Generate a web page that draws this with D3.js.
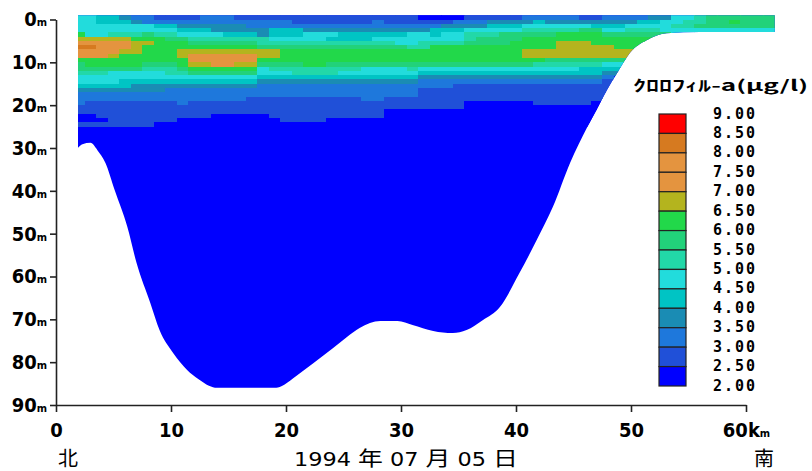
<!DOCTYPE html>
<html><head><meta charset="utf-8">
<script src="https://cdn.jsdelivr.net/npm/d3@7/dist/d3.min.js"></script>
<style>body{margin:0;background:#fff}svg{display:block}</style>
</head><body><svg id="c" width="812" height="471"></svg>
<script>
// ---- data ----
const depthTicks = [0,10,20,30,40,50,60,70,80,90];
const distTicks = [0,10,20,30,40,50,60];
const levelLabels = ["9.00","8.50","8.00","7.50","7.00","6.50","6.00","5.50","5.00","4.50","4.00","3.50","3.00","2.50","2.00"];
const levelValues = [9,8.5,8,7.5,7,6.5,6,5.5,5,4.5,4,3.5,3,2.5,2];
const levelColors = ["#0000ff","#2050d8","#1e78dc","#1a8cb4","#00c4c4","#22dcdc","#22d8a8","#22d27a","#22d84a","#b4b41e","#e4943f","#e4943f","#d67a20","#ff0000"];
// station columns (km) and class codes per 1 m depth row from -1 m downward (0=2.0-2.5 ... d=8.5-9.0)
const columnKm = [2,3,4,5,6,7,8,9,10,11,12,13,14,15,16,17,18,19,20,21,22,23,24,25,26,27,28,29,30,31,32,33,34,35,36,37,38,39,40,41,42,43,44,45,46,47,48,49,50,51,52,53,54,55,56,57,58,59,60,61,62];
const columnCodes = [
"555589acaa8776554322211001","555559acaa8876554322111001","445559aaaa8876554322111101","445569aaa98875554322111111",
"345569aa988875544322111111","23556899988875543322111111","22557898888765543322111111","12456888888765543322111110",
"12456788888766543222111110","12345788998876543222211100","123456789aa987543222111100","223456789aa987543222111100",
"223356789aaa87543222111000","223346789aaa87543222111000","123346789aa987543222111000","122346789aa987543221111000",
"12233667998755432221111000","12244567998765432221111100","12244567888765432221111110","11244567888766432221111110",
"11235567888866432221111110","11235567888866432221111110","11235467888766432221111100","11234467888765432221111100",
"11234467888765432221111100","11234467888755432222111100","12234567888755432222111100","11234567888755432221110000",
"11234557888755432221110000","11235556888765432221110000","01235566888754322111110000","01244568888754322111110000",
"01345568888754322111110000","02345568888754321111110000","12356678888754321111000000","12356778888754321111000000",
"13456778888754321111000000","13457778888754321111000000","13457788888754321111000000","23567888998754321111000000",
"24567888998654321111100000","23567888997654321111100000","23568899997654321111100000","23568899997654321111100000",
"13578899997644321111100000","13478889997644321111000000","23457889997543211111","23457888997543",
"23567888997","2456788899","34567888","355578","5565","5665","6675","7775","7775","7875","7775","7775","7775"];
const bottomKm =    [1.9,2.3,3.0,3.6,4.3,5.1,6.2,7.0,8.2,9.0,10.2,11.4,12.4,13.3,14.0,19.0,19.6,20.1,20.6,22.4,24.1,25.3,26.4,28.2,29.7,31.0,32.8,34.5,35.7,37.1,38.6,40.3,41.8,43.2,44.7,46.2,47.0,47.9,48.8,49.9,51.4,53.1,56.0,62.5];
const bottomDepth = [30.0,29.1,28.8,30.5,33.5,39.8,48.4,56.8,66.2,72.5,77.9,81.8,84.0,85.5,86.0,86.0,85.6,84.8,83.8,80.2,76.7,74.1,72.0,70.4,70.4,71.3,72.7,73.2,72.5,70.2,67.1,59.2,51.5,43.8,33.5,25.1,21.1,16.5,12.5,7.8,4.8,3.2,2.9,2.9];
const dataStartKm = 1.9, dataEndKm = 62.5, surfaceDepth = -1;

// ---- scales ----
const svg = d3.select("#c");
const x = d3.scaleLinear().domain([0,60]).range([56,746]);
const y = d3.scaleLinear().domain([0,90]).range([19.5,405]);
const color = d3.scaleThreshold().domain([2.5,3,3.5,4,4.5,5,5.5,6,6.5,7,7.5,8,8.5]).range(levelColors);
const codeVal = c => 2.25 + 0.5*parseInt(c,16);

const cells = [];
columnKm.forEach((k,i)=>{
  const s = columnCodes[i];
  for(let r=0;r<s.length;r++) cells.push({km:k,top:r-1,bot:r,v:codeVal(s[r])});
});

// clip by bottom profile
const water = bottomKm.map((k,i)=>({k, d:bottomDepth[i]}));
const area = d3.area().x(d=>x(d.k)).y0(y(surfaceDepth)).y1(d=>y(d.d)).curve(d3.curveMonotoneX);
svg.append("defs").append("clipPath").attr("id","wc").append("path").attr("d",area(water));

const g = svg.append("g").attr("clip-path","url(#wc)").attr("shape-rendering","crispEdges");
g.append("rect").attr("x",x(dataStartKm)).attr("y",y(surfaceDepth)).attr("width",x(dataEndKm)-x(dataStartKm)).attr("height",y(90)-y(surfaceDepth)).attr("fill",color(2.25));
g.selectAll("rect.c").data(cells).join("rect").attr("class","c")
  .attr("x",d=>Math.max(x(dataStartKm),x(d.km-0.5)))
  .attr("width",d=>Math.min(x(dataEndKm),x(d.km+0.5))-Math.max(x(dataStartKm),x(d.km-0.5))+0.6)
  .attr("y",d=>y(d.top)).attr("height",d=>y(d.bot)-y(d.top)+0.6)
  .attr("fill",d=>color(d.v));

// ---- axes ----
const axFont = "'DejaVu Sans Condensed','DejaVu Sans',sans-serif";
const yAx = svg.append("g").attr("transform","translate(56,0)")
  .call(d3.axisLeft(y).tickValues(depthTicks).tickSize(6).tickSizeOuter(0).tickPadding(3).tickFormat(d=>d));
const xAx = svg.append("g").attr("transform","translate(0,405)")
  .call(d3.axisBottom(x).tickValues(distTicks).tickSize(7).tickSizeOuter(0).tickPadding(11).tickFormat(d=>d));
[yAx,xAx].forEach(a=>{
  a.selectAll("path,line").attr("stroke","#222").attr("stroke-width",1.6);
  a.selectAll("text").attr("font-family",axFont).attr("font-weight","bold").attr("font-size",20).attr("fill","#000");
});
yAx.selectAll(".tick text").append("tspan").attr("font-size",11).text("m");
xAx.selectAll(".tick text").filter(d=>d===60).append("tspan").text("k");
xAx.selectAll(".tick text").filter(d=>d===60).append("tspan").attr("font-size",11).text("m");

// bottom captions
const cap = svg.append("g").attr("font-family","'DejaVu Sans Condensed','Noto Sans CJK JP',sans-serif").attr("font-size",20).attr("fill","#000");
cap.append("text").attr("x",68).attr("y",466).attr("text-anchor","middle").attr("font-family","'Noto Sans CJK JP'").text("北");
cap.append("text").attr("x",764).attr("y",466).attr("text-anchor","middle").attr("font-family","'Noto Sans CJK JP'").text("南");
cap.append("text").attr("x",294).attr("y",466).attr("textLength",224).attr("lengthAdjust","spacingAndGlyphs").text("1994 年 07 月 05 日");

// ---- legend ----
const ly = d3.scaleLinear().domain([9,2]).range([114,386]);
const lg = svg.append("g");
lg.append("text").attr("x",633).attr("y",91).attr("textLength",175).attr("lengthAdjust","spacingAndGlyphs")
  .attr("font-family","'Noto Sans CJK JP'").attr("font-weight","bold").attr("font-size",15).text("ｸﾛﾛﾌｨﾙ-a(μg/l)");
const bands = levelValues.slice(0,-1).map((v,i)=>({hi:v, lo:levelValues[i+1]}));
lg.selectAll("rect").data(bands).join("rect")
  .attr("x",659).attr("width",27).attr("y",d=>ly(d.hi)).attr("height",d=>ly(d.lo)-ly(d.hi))
  .attr("fill",d=>color((d.hi+d.lo)/2)).attr("stroke","#222").attr("stroke-width",1.2);
lg.selectAll("text.l").data(levelLabels).join("text").attr("class","l")
  .attr("x",713).attr("y",(d,i)=>ly(levelValues[i])+4.5)
  .attr("font-family","'DejaVu Sans Mono',monospace").attr("font-weight","bold").attr("font-size",15)
  .attr("letter-spacing",2).text(d=>d);
</script></body></html>
